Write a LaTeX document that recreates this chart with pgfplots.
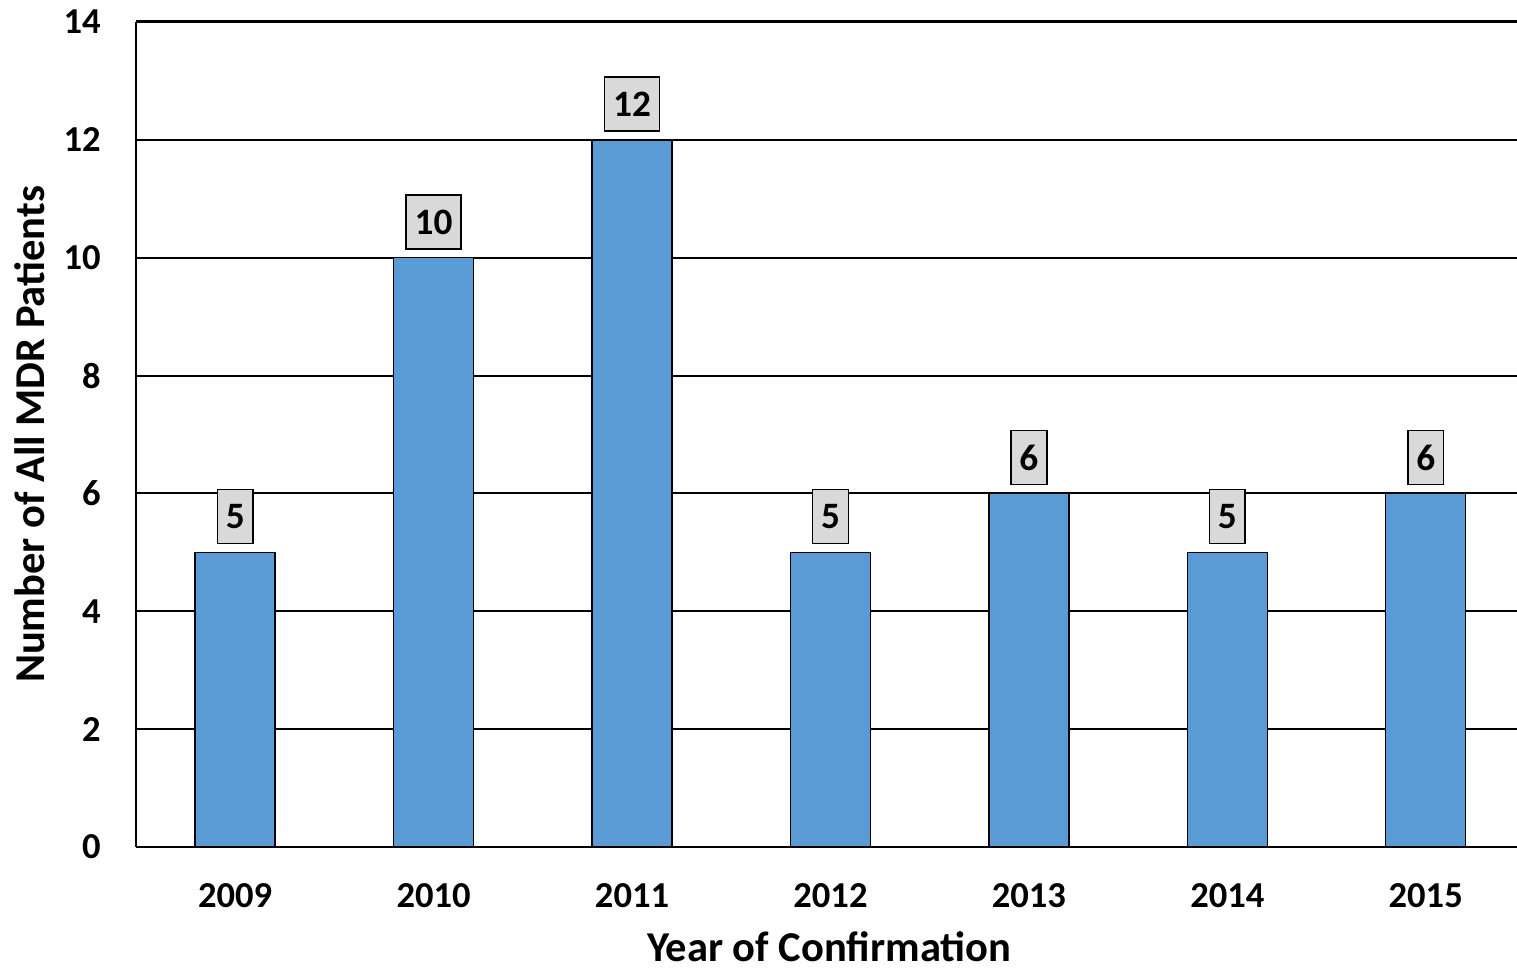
\documentclass[border=0pt]{standalone}
\usepackage{fontspec}
\setmainfont{Carlito}
\usepackage{pgfplots}
\pgfplotsset{compat=1.18}
\definecolor{barblue}{HTML}{5B9BD5}
\definecolor{labelgray}{HTML}{D9D9D9}
\begin{document}
\begin{tikzpicture}
\begin{axis}[
  name=ax,
  scale only axis,
  width=138.1mm, height=82.5mm,
  xmin=-0.5, xmax=6.46, ymin=0, ymax=14,
  ybar, bar width=8mm,
  ytick={0,2,...,12},
  extra y ticks={14},
  extra y tick style={grid style={black, line width=0.3mm}},
  xtick={0,...,6},
  xticklabels={2009,2010,2011,2012,2013,2014,2015},
  ymajorgrids,
  grid style={black, line width=0.2mm},
  axis x line*=bottom, axis y line*=left,
  axis line style={line width=0.2mm, -},
  x axis line style={-}, y axis line style={-},
  major tick length=0,
  tick label style={font=\fontsize{10.4}{12}\selectfont\bfseries},
  yticklabel style={xshift=-2.3mm},
  xticklabel style={yshift=-2.4mm},
  /pgf/number format/assume math mode=true,
  xlabel={Year of Confirmation},
  ylabel={Number of All MDR Patients},
  label style={font=\fontsize{12.1}{14}\selectfont\bfseries},
  xlabel style={at={(axis description cs:0.502,-0.121)}, anchor=center, inner sep=0pt},
  ylabel style={at={(axis description cs:-0.0768,0.5)}, anchor=center},
  clip=false,
]
\addplot[fill=barblue, draw=black, line width=0.15mm,
  nodes near coords,
  every node near coord/.append style={fill=labelgray, draw=black, line width=0.15mm,
    inner xsep=0.85mm, minimum height=5.4mm, anchor=south, yshift=0.8mm,
    font=\fontsize{10.6}{12}\selectfont\bfseries}]
  coordinates {(0,5) (1,10) (2,12) (3,5) (4,6) (5,5) (6,6)};
\end{axis}
\pgfresetboundingbox
\path ([xshift=-13.6mm,yshift=-12.1mm]ax.south west) rectangle ([yshift=2.2mm]ax.north east);
\end{tikzpicture}
\end{document}
